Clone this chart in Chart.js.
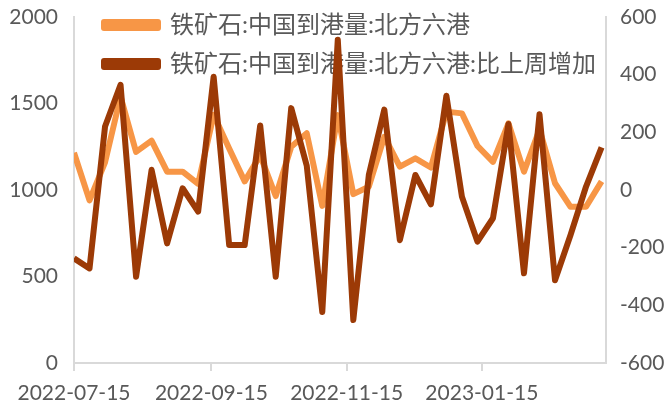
<!DOCTYPE html>
<html>
<head>
<meta charset="utf-8">
<script src="https://cdn.jsdelivr.net/npm/chart.js@4.4.1/dist/chart.umd.min.js"></script>
<style>
  html, body { margin: 0; padding: 0; background: #ffffff; }
  #wrap { width: 667px; height: 408px; position: relative; }
</style>
</head>
<body>
<div id="wrap"><canvas id="c" width="667" height="408"></canvas></div>
<script>
const dates = [
  '2022-07-15','2022-07-22','2022-07-29','2022-08-05','2022-08-12','2022-08-19','2022-08-26',
  '2022-09-02','2022-09-09','2022-09-16','2022-09-23','2022-09-30','2022-10-07','2022-10-14',
  '2022-10-21','2022-10-28','2022-11-04','2022-11-11','2022-11-18','2022-11-25','2022-12-02',
  '2022-12-09','2022-12-16','2022-12-23','2022-12-30','2023-01-06','2023-01-13','2023-01-20',
  '2023-01-27','2023-02-03','2023-02-10','2023-02-17','2023-02-24','2023-03-03','2023-03-10'
];
const arrivals = [
  1215, 940, 1160, 1540, 1220, 1285, 1106, 1106, 1035, 1435, 1240, 1050, 1200, 965,
  1250, 1328, 908, 1433, 976, 1019, 1308, 1135, 1183, 1130, 1453, 1443, 1255, 1163,
  1385, 1106, 1350, 1039, 903, 903, 1050
];
const weeklyChange = [
  -237, -272, 220, 365, -301, 70, -185, 6, -75, 393, -191, -191, 224, -301,
  284, 84, -423, 521, -451, 52, 279, -174, 52, -50, 327, -23, -179, -98,
  229, -289, 263, -313, -156, 12, 148
];
const tickLabels = ['2022-07-15', '2022-09-15', '2022-11-15', '2023-01-15'];
const leftTicks = [0, 500, 1000, 1500, 2000];
const rightTicks = [-600, -400, -200, 0, 200, 400, 600];
const seriesNames = ['铁矿石:中国到港量:北方六港', '铁矿石:中国到港量:北方六港:比上周增加'];
const axisEnd = '2023-03-12';

const DAY = 86400000;
const base = Date.parse(dates[0] + 'T00:00:00Z');
const dayOf = s => Math.round((Date.parse(s + 'T00:00:00Z') - base) / DAY);
const tickDays = tickLabels.map(dayOf);

const FONT = "Lato, 'Noto Sans CJK SC', sans-serif";
const TXT = '#595959';
const AXIS = '#d9d9d9';

const legendPlace = {
  id: 'legendPlace',
  afterLayout(chart) {
    const lg = chart.legend;
    if (lg) {
      const h = lg.bottom - lg.top;
      lg.left = 89; lg.right = 606;
      lg.top = -2; lg.bottom = lg.top + h;
    }
  }
};

new Chart(document.getElementById('c'), {
  type: 'line',
  data: {
    datasets: [
      {
        label: seriesNames[0],
        data: dates.map((d, i) => ({ x: dayOf(d), y: arrivals[i] })),
        borderColor: '#F79646',
        backgroundColor: '#F79646',
        borderWidth: 6,
        pointRadius: 0,
        tension: 0,
        borderJoinStyle: 'round',
        yAxisID: 'y',
        order: 1
      },
      {
        label: seriesNames[1],
        data: dates.map((d, i) => ({ x: dayOf(d), y: weeklyChange[i] })),
        borderColor: '#9C3A06',
        backgroundColor: '#9C3A06',
        borderWidth: 6,
        pointRadius: 0,
        tension: 0,
        borderJoinStyle: 'round',
        yAxisID: 'y1',
        order: 0
      }
    ]
  },
  options: {
    responsive: false,
    animation: false,
    layout: { padding: { top: 17, right: 0, bottom: 0, left: 0 } },
    plugins: {
      tooltip: { enabled: false },
      legend: {
        position: 'chartArea',
        fullSize: false,
        align: 'start',
        labels: {
          sort: (a, b) => a.datasetIndex - b.datasetIndex,
          boxWidth: 54,
          boxHeight: 6,
          padding: 15,
          color: TXT,
          font: { family: FONT, size: 24 }
        }
      }
    },
    scales: {
      x: {
        type: 'linear',
        min: 0,
        max: dayOf(axisEnd),
        afterBuildTicks: s => { s.ticks = tickDays.map(v => ({ value: v })); },
        afterFit: s => { s.height = 45; },
        ticks: {
          color: TXT,
          font: { family: FONT, size: 21 },
          maxRotation: 0,
          autoSkip: false,
          padding: 10,
          callback: v => tickLabels[tickDays.indexOf(v)]
        },
        grid: { display: true, drawOnChartArea: false, drawTicks: true, tickLength: 8, color: AXIS, lineWidth: 2 },
        border: { display: true, color: AXIS, width: 2 }
      },
      y: {
        position: 'left',
        min: 0,
        max: 2000,
        afterBuildTicks: s => { s.ticks = leftTicks.map(v => ({ value: v })); },
        afterFit: s => { s.width = 74; s.paddingTop = 0; s.paddingBottom = 0; },
        ticks: { color: TXT, font: { family: FONT, size: 21 }, padding: 16, callback: v => String(v) },
        grid: { display: false, drawTicks: false },
        border: { display: true, color: AXIS, width: 2 }
      },
      y1: {
        position: 'right',
        min: -600,
        max: 600,
        afterBuildTicks: s => { s.ticks = rightTicks.map(v => ({ value: v })); },
        afterFit: s => { s.width = 61; s.paddingTop = 0; s.paddingBottom = 0; },
        ticks: { color: TXT, font: { family: FONT, size: 21 }, padding: 14, callback: v => String(v) },
        grid: { display: false, drawTicks: false },
        border: { display: true, color: AXIS, width: 2 }
      }
    }
  },
  plugins: [legendPlace]
});
</script>
</body>
</html>
